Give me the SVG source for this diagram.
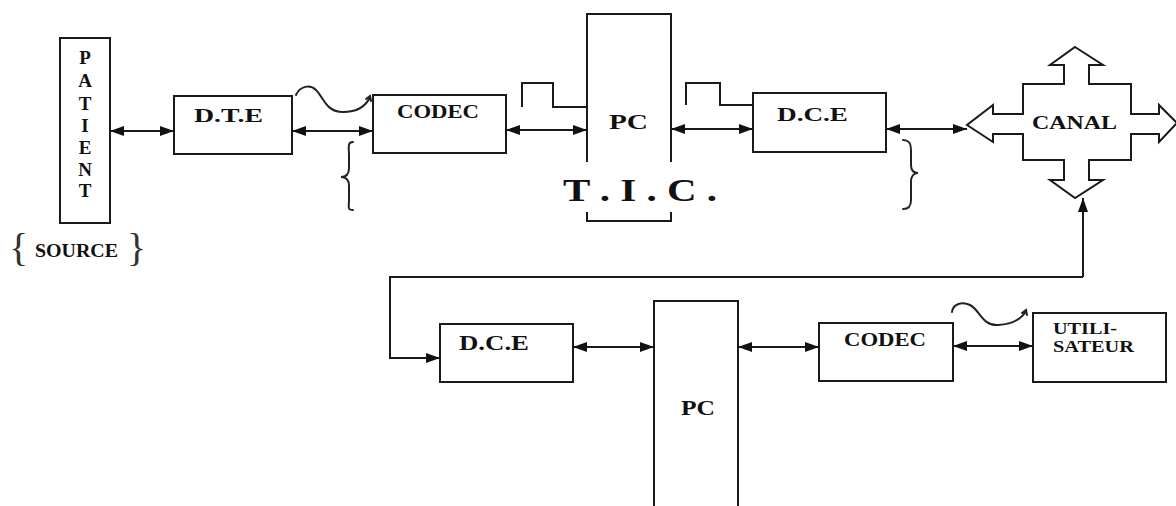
<svg xmlns="http://www.w3.org/2000/svg" width="1176" height="506" viewBox="0 0 1176 506">
  <style>
    .box { fill: #fff; stroke: #1a1a1a; stroke-width: 2; }
    .ln { fill: none; stroke: #1a1a1a; stroke-width: 2; }
    .thin { fill: none; stroke: #222; stroke-width: 2; stroke-linecap: round; }
    .arr { fill: none; stroke: #1a1a1a; stroke-width: 2; marker-end: url(#ah); }
    .dbl { fill: none; stroke: #1a1a1a; stroke-width: 2; marker-start: url(#ah); marker-end: url(#ah); }
    .lbl { font-family: "Liberation Serif", "Times New Roman", serif; font-weight: bold; fill: #111; }
    .brace { font-family: "Liberation Serif", "Times New Roman", serif; fill: #333; }
  </style>
  <defs>
    <marker id="ah" viewBox="0 0 14 10" refX="14" refY="5" markerWidth="14" markerHeight="10" markerUnits="userSpaceOnUse" orient="auto-start-reverse">
      <path d="M0,0 L14,5 L0,10 z" fill="#111"/>
    </marker>
  </defs>
  <rect width="1176" height="506" fill="#fff"/>

  <g id="patient">
    <rect class="box" x="60" y="38" width="50" height="185"/>
    <text class="lbl" font-size="19" text-anchor="middle" x="85" y="64">P</text>
    <text class="lbl" font-size="19" text-anchor="middle" x="85" y="87">A</text>
    <text class="lbl" font-size="19" text-anchor="middle" x="85" y="110">T</text>
    <text class="lbl" font-size="19" text-anchor="middle" x="85" y="132">I</text>
    <text class="lbl" font-size="19" text-anchor="middle" x="85" y="154">E</text>
    <text class="lbl" font-size="19" text-anchor="middle" x="85" y="176">N</text>
    <text class="lbl" font-size="19" text-anchor="middle" x="85" y="197">T</text>
  </g>

  <g id="source">
    <text class="brace" font-size="40" x="9" y="261">{</text>
    <text class="lbl" font-size="18" x="35" y="257" textLength="83" lengthAdjust="spacingAndGlyphs">SOURCE</text>
    <text class="brace" font-size="40" x="127" y="261">}</text>
  </g>

  <g id="dte">
    <rect class="box" x="174" y="96" width="118" height="58"/>
    <text class="lbl" font-size="19" x="194" y="122" textLength="69" lengthAdjust="spacingAndGlyphs">D.T.E</text>
  </g>

  <g id="codec-top">
    <rect class="box" x="373" y="95" width="133" height="58"/>
    <text class="lbl" font-size="19" x="397" y="118" textLength="82" lengthAdjust="spacingAndGlyphs">CODEC</text>
  </g>

  <g id="pc-top">
    <path class="ln" d="M587,162 V14 H671 V162"/>
    <path class="ln" d="M587,212 V221 H671 V212"/>
    <text class="lbl" font-size="21" x="609" y="129" textLength="39" lengthAdjust="spacingAndGlyphs">PC</text>
  </g>

  <g id="tic">
    <text class="lbl" font-size="32" x="563" y="201" textLength="154" lengthAdjust="spacingAndGlyphs">T . I . C .</text>
  </g>

  <g id="dce-top">
    <rect class="box" x="753" y="93" width="133" height="59"/>
    <text class="lbl" font-size="19" x="777" y="121" textLength="71" lengthAdjust="spacingAndGlyphs">D.C.E</text>
  </g>

  <g id="canal">
    <path class="box" d="M1075,47 L1103,65 L1089,65 L1089,84 L1131,84 L1131,114 L1159,114 L1159,105 L1177,123 L1159,142 L1159,134 L1131,134 L1131,160 L1089,160 L1089,180 L1103,180 L1075,198 L1050,180 L1064,180 L1064,160 L1023,160 L1023,134 L993,134 L993,142 L967,125 L993,105 L993,114 L1023,114 L1023,84 L1064,84 L1064,65 L1050,65 Z"/>
    <text class="lbl" font-size="19" x="1032" y="129" textLength="85" lengthAdjust="spacingAndGlyphs">CANAL</text>
  </g>

  <g id="dce-bottom">
    <rect class="box" x="440" y="324" width="133" height="58"/>
    <text class="lbl" font-size="20" x="459" y="350" textLength="70" lengthAdjust="spacingAndGlyphs">D.C.E</text>
  </g>

  <g id="pc-bottom">
    <path class="ln" d="M654,507 V301 H738 V507"/>
    <text class="lbl" font-size="22" x="681" y="415" textLength="34" lengthAdjust="spacingAndGlyphs">PC</text>
  </g>

  <g id="codec-bottom">
    <rect class="box" x="819" y="323" width="134" height="58"/>
    <text class="lbl" font-size="19" x="844" y="346" textLength="82" lengthAdjust="spacingAndGlyphs">CODEC</text>
  </g>

  <g id="utilisateur">
    <rect class="box" x="1033" y="313" width="133" height="69"/>
    <text class="lbl" font-size="16" x="1053" y="334" textLength="64" lengthAdjust="spacingAndGlyphs">UTILI-</text>
    <text class="lbl" font-size="16" x="1053" y="352" textLength="81" lengthAdjust="spacingAndGlyphs">SATEUR</text>
  </g>

  <g id="connectors">
    <line class="dbl" x1="110" y1="131" x2="174" y2="131"/>
    <line class="dbl" x1="292" y1="131" x2="373" y2="131"/>
    <line class="dbl" x1="506" y1="130" x2="587" y2="130"/>
    <line class="dbl" x1="671" y1="129" x2="753" y2="129"/>
    <line class="dbl" x1="886" y1="129" x2="967" y2="129"/>
    <path class="arr" d="M1083,277 V198"/>
    <path class="arr" d="M1083,277 H390 V358 H440"/>
    <line class="dbl" x1="573" y1="347" x2="654" y2="347"/>
    <line class="dbl" x1="738" y1="347" x2="819" y2="347"/>
    <line class="dbl" x1="953" y1="346" x2="1033" y2="346"/>
    <path class="ln" d="M522,107 V83 H553 V107 H587"/>
    <path class="ln" d="M686,105 V83 H720 V105 H753"/>
    <path class="thin" d="M296,95 C300,86 310,84 316,90 C324,98 326,112 343,112 C358,112 366,106 370,97 M366,99 L370,96 L371,101"/>
    <path class="thin" d="M952,312 C953,304 962,301 970,305 C980,310 982,326 998,325 C1015,324 1022,318 1026,311 M1022,313 L1026,310 L1027,315"/>
    <path class="thin" d="M353,142 C347,142 349,148 349,155 L349,168 C349,174 346,177 341,177 C346,177 349,180 349,186 L349,200 C349,207 347,210 353,210"/>
    <path class="thin" d="M903,140 C909,140 911,143 911,150 L911,165 C911,171 914,173 918,173 C914,173 911,176 911,182 L911,200 C911,206 909,209 903,209"/>
  </g>
</svg>
